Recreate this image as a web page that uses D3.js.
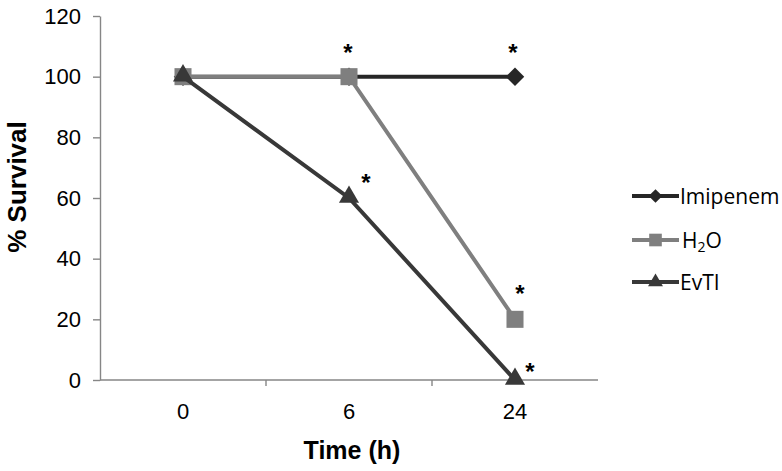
<!DOCTYPE html>
<meta charset="utf-8" />
<style>
  body {
    background: #fff;
    margin: 0px;
  }
  .axis path,
  .axis line {
    stroke: #868686;
    stroke-width: 1.4px;
  }
  .axis text {
    font-family: "Liberation Sans", Arial, sans-serif;
    font-size: 22px;
    fill: #000;
  }
  .title {
    font-family: "Liberation Sans", Arial, sans-serif;
    font-weight: bold;
  }
  .legend text {
    font-family: "Open Sans", sans-serif;
    font-size: 21px;
  }
  .star {
    font-family: "Liberation Sans", Arial, sans-serif;
    font-size: 24px;
    font-weight: bold;
  }
</style>
<body></body>
<script src="https://d3js.org/d3.v7.min.js"></script>
<script>
  var width = 782,
    height = 471;

  // data
  var times = ["0", "6", "24"];
  var yTicks = [0, 20, 40, 60, 80, 100, 120];
  var seriesNames = ["Imipenem", "H2O", "EvTI"];
  var imipenem = [100, 100, 100];
  var water = [100, 100, 20];
  var evti = [100, 60, 0];
  // significance stars: series index, time
  var stars = [
    { s: 0, t: "6" },
    { s: 0, t: "24" },
    { s: 2, t: "6" },
    { s: 1, t: "24" },
    { s: 2, t: "24" },
  ];

  // square diamond (rotated square)
  var symbolRhombus = {
    draw: function (ctx, size) {
      var r = Math.sqrt(size / 2);
      ctx.moveTo(0, -r);
      ctx.lineTo(r, 0);
      ctx.lineTo(0, r);
      ctx.lineTo(-r, 0);
      ctx.closePath();
    },
  };

  var series = [
    { name: seriesNames[0], values: imipenem, color: "#262626", shape: symbolRhombus, size: 170 },
    { name: seriesNames[1], values: water, color: "#7f7f7f", shape: d3.symbolSquare, size: 290 },
    { name: seriesNames[2], values: evti, color: "#383838", shape: d3.symbolTriangle, size: 175 },
  ];

  var x = d3.scaleBand().domain(times).range([100, 598]);
  var y = d3.scaleLinear().domain([0, 120]).range([380, 16]);

  var svg = d3
    .select("body")
    .append("svg")
    .attr("width", width)
    .attr("height", height);

  // y axis
  svg
    .append("g")
    .attr("class", "axis")
    .attr("transform", "translate(100,0)")
    .call(d3.axisLeft(y).tickValues(yTicks).tickSize(7).tickSizeOuter(0).tickPadding(12));

  // x axis
  var xAxis = svg
    .append("g")
    .attr("class", "axis")
    .attr("transform", "translate(0,380)")
    .call(d3.axisBottom(x).tickSize(0).tickPadding(23));
  xAxis.select(".domain").attr("d", "M100,0H598");
  xAxis
    .selectAll(".sep")
    .data(times.slice(1))
    .enter()
    .append("line")
    .attr("x1", (d) => x(d))
    .attr("x2", (d) => x(d))
    .attr("y1", 0)
    .attr("y2", 6);

  svg
    .append("text")
    .attr("class", "title")
    .attr("font-size", 26)
    .attr("transform", "translate(26,187) rotate(-90)")
    .attr("text-anchor", "middle")
    .text("% Survival");

  svg
    .append("text")
    .attr("class", "title")
    .attr("font-size", 25)
    .attr("x", 352)
    .attr("y", 459)
    .attr("text-anchor", "middle")
    .text("Time (h)");

  var cx = (d, i) => x(times[i]) + x.bandwidth() / 2;
  var line = d3
    .line()
    .x((d, i) => x(times[i]) + x.bandwidth() / 2)
    .y((d) => y(d));

  series.forEach(function (s) {
    var g = svg.append("g");
    g.append("path")
      .attr("d", line(s.values))
      .attr("fill", "none")
      .attr("stroke", s.color)
      .attr("stroke-width", 4);
    g.selectAll("path.m")
      .data(s.values)
      .enter()
      .append("path")
      .attr("class", "m")
      .attr("d", d3.symbol().type(s.shape).size(s.size))
      .attr("fill", s.color)
      .attr("transform", (d, i) => "translate(" + cx(d, i) + "," + (y(d) + (s.shape === d3.symbolTriangle ? -1 : 0)) + ")");
  });

  // stars above significant points
  var offsets = [
    [-1, -30],
    [-2, -30],
    [17, -21],
    [5, -31],
    [15, -14],
  ];
  svg
    .selectAll(".star")
    .data(stars)
    .enter()
    .append("text")
    .attr("class", "star")
    .attr("text-anchor", "middle")
    .attr("x", (d, i) => x(d.t) + x.bandwidth() / 2 + offsets[i][0])
    .attr("y", (d, i) => y(series[d.s].values[times.indexOf(d.t)]) + offsets[i][1] + 14)
    .text("*");

  // legend
  var legend = svg
    .selectAll(".legend")
    .data(series)
    .enter()
    .append("g")
    .attr("class", "legend")
    .attr("transform", (d, i) => "translate(632," + [196, 240, 282][i] + ")");
  legend
    .append("line")
    .attr("x1", 0)
    .attr("x2", 47)
    .attr("stroke", (d) => d.color)
    .attr("stroke-width", 4);
  legend
    .append("path")
    .attr("d", (d) => d3.symbol().type(d.shape).size(d.size * 0.55)())
    .attr("transform", "translate(23.5,0)")
    .attr("fill", (d) => d.color);
  var lt = legend
    .append("text")
    .attr("x", 48)
    .attr("y", 7.5);
  lt.filter((d) => d.name !== "H2O").text((d) => d.name);
  var h = lt.filter((d) => d.name === "H2O").attr("x", 50);
  h.append("tspan").text("H");
  h.append("tspan").attr("font-size", "14px").attr("dy", 4).text("2");
  h.append("tspan").attr("dy", -4).text("O");
</script>
